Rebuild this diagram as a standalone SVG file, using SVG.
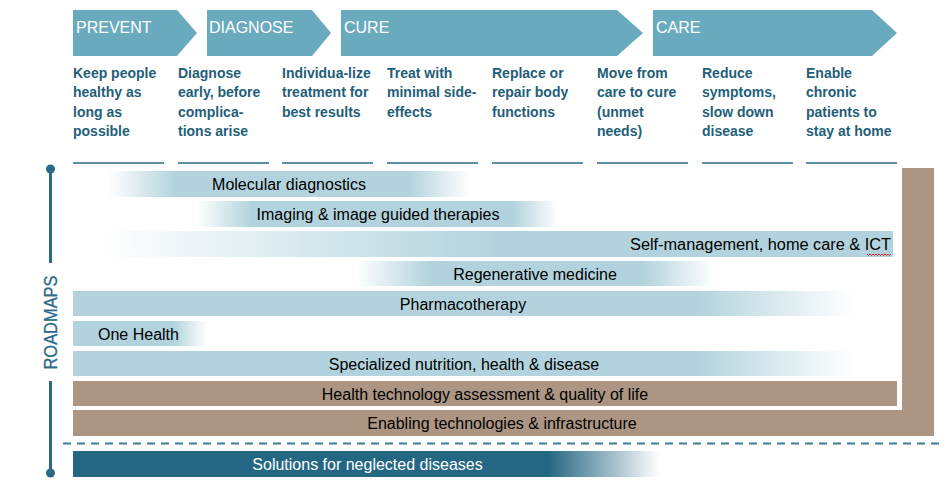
<svg xmlns="http://www.w3.org/2000/svg" width="950" height="482" viewBox="0 0 950 482">
<defs>
<style>
.chev{fill:#6AAABF}
.ph{font-family:"Liberation Sans",Arial,sans-serif;font-size:16px;fill:#ffffff}
.desc{font-family:"Liberation Sans",Arial,sans-serif;font-size:14px;font-weight:bold;fill:#235E78}
.ul{fill:#5E8EA3}
.bt{font-family:"Liberation Sans",Arial,sans-serif;font-size:16px;fill:#000000}
.brown{fill:#AC9683}
.axis{stroke:#2A6A88;stroke-width:3;fill:none}
</style>
<linearGradient id="gMol" x1="108" y1="0" x2="470" y2="0" gradientUnits="userSpaceOnUse">
<stop offset="0" stop-color="#B2D3DD" stop-opacity="0"/><stop offset="0.19" stop-color="#B2D3DD"/><stop offset="0.83" stop-color="#B2D3DD"/><stop offset="1" stop-color="#B2D3DD" stop-opacity="0"/>
</linearGradient>
<linearGradient id="gImg" x1="197" y1="0" x2="558" y2="0" gradientUnits="userSpaceOnUse">
<stop offset="0" stop-color="#B2D3DD" stop-opacity="0"/><stop offset="0.15" stop-color="#B2D3DD"/><stop offset="0.875" stop-color="#B2D3DD"/><stop offset="1" stop-color="#B2D3DD" stop-opacity="0"/>
</linearGradient>
<linearGradient id="gSelf" x1="100" y1="0" x2="893" y2="0" gradientUnits="userSpaceOnUse">
<stop offset="0" stop-color="#B2D3DD" stop-opacity="0"/><stop offset="0.5" stop-color="#B2D3DD"/><stop offset="1" stop-color="#B2D3DD"/>
</linearGradient>
<linearGradient id="gReg" x1="355" y1="0" x2="715" y2="0" gradientUnits="userSpaceOnUse">
<stop offset="0" stop-color="#B2D3DD" stop-opacity="0"/><stop offset="0.21" stop-color="#B2D3DD"/><stop offset="0.8" stop-color="#B2D3DD"/><stop offset="1" stop-color="#B2D3DD" stop-opacity="0"/>
</linearGradient>
<linearGradient id="gPh" x1="73" y1="0" x2="853" y2="0" gradientUnits="userSpaceOnUse">
<stop offset="0" stop-color="#B2D3DD"/><stop offset="0.8" stop-color="#B2D3DD"/><stop offset="1" stop-color="#B2D3DD" stop-opacity="0"/>
</linearGradient>
<linearGradient id="gOne" x1="73" y1="0" x2="207" y2="0" gradientUnits="userSpaceOnUse">
<stop offset="0" stop-color="#B2D3DD"/><stop offset="0.75" stop-color="#B2D3DD"/><stop offset="1" stop-color="#B2D3DD" stop-opacity="0"/>
</linearGradient>
<linearGradient id="gSol" x1="73" y1="0" x2="660" y2="0" gradientUnits="userSpaceOnUse">
<stop offset="0" stop-color="#246783"/><stop offset="0.81" stop-color="#246783"/><stop offset="1" stop-color="#ffffff"/>
</linearGradient>
</defs>
<rect width="950" height="482" fill="#ffffff"/>

<g id="phases">
<g id="prevent"><polygon class="chev" points="73,10 177,10 197,33 177,56 73,56"/><text class="ph" x="76" y="33">PREVENT</text></g>
<g id="diagnose"><polygon class="chev" points="207,10 312,10 331,33 312,56 207,56"/><text class="ph" x="209" y="33">DIAGNOSE</text></g>
<g id="cure"><polygon class="chev" points="341,10 617,10 643,33 617,56 341,56"/><text class="ph" x="344" y="33">CURE</text></g>
<g id="care"><polygon class="chev" points="653,10 872,10 897,33 872,56 653,56"/><text class="ph" x="656" y="33">CARE</text></g>
</g>

<g id="descriptions">
<g id="d1"><text class="desc"><tspan x="73" y="78">Keep people</tspan><tspan x="73" y="97.3">healthy as</tspan><tspan x="73" y="116.6">long as</tspan><tspan x="73" y="136">possible</tspan></text><rect class="ul" x="73" y="162" width="91" height="2"/></g>
<g id="d2"><text class="desc"><tspan x="178" y="78">Diagnose</tspan><tspan x="178" y="97.3">early, before</tspan><tspan x="178" y="116.6">complica-</tspan><tspan x="178" y="136">tions arise</tspan></text><rect class="ul" x="178" y="162" width="91" height="2"/></g>
<g id="d3"><text class="desc"><tspan x="282" y="78">Individua-lize</tspan><tspan x="282" y="97.3">treatment for</tspan><tspan x="282" y="116.6">best results</tspan></text><rect class="ul" x="282" y="162" width="91" height="2"/></g>
<g id="d4"><text class="desc"><tspan x="387" y="78">Treat with</tspan><tspan x="387" y="97.3">minimal side-</tspan><tspan x="387" y="116.6">effects</tspan></text><rect class="ul" x="387" y="162" width="91" height="2"/></g>
<g id="d5"><text class="desc"><tspan x="492" y="78">Replace or</tspan><tspan x="492" y="97.3">repair body</tspan><tspan x="492" y="116.6">functions</tspan></text><rect class="ul" x="492" y="162" width="91" height="2"/></g>
<g id="d6"><text class="desc"><tspan x="597" y="78">Move from</tspan><tspan x="597" y="97.3">care to cure</tspan><tspan x="597" y="116.6">(unmet</tspan><tspan x="597" y="136">needs)</tspan></text><rect class="ul" x="597" y="162" width="91" height="2"/></g>
<g id="d7"><text class="desc"><tspan x="702" y="78">Reduce</tspan><tspan x="702" y="97.3">symptoms,</tspan><tspan x="702" y="116.6">slow down</tspan><tspan x="702" y="136">disease</tspan></text><rect class="ul" x="702" y="162" width="91" height="2"/></g>
<g id="d8"><text class="desc"><tspan x="806" y="78">Enable</tspan><tspan x="806" y="97.3">chronic</tspan><tspan x="806" y="116.6">patients to</tspan><tspan x="806" y="136">stay at home</tspan></text><rect class="ul" x="806" y="162" width="91" height="2"/></g>
</g>

<g id="axis">
<line class="axis" x1="50.5" y1="169" x2="50.5" y2="263"/>
<line class="axis" x1="50.5" y1="381" x2="50.5" y2="473"/>
<circle cx="50.5" cy="169" r="4.5" fill="#2A6A88"/>
<circle cx="50.5" cy="473" r="4.5" fill="#2A6A88"/>
<text x="0" y="0" transform="translate(56.5,369.5) rotate(-90)" font-family="'Liberation Sans',Arial,sans-serif" font-size="18" fill="#2A6A88" stroke="#2A6A88" stroke-width="0.3" textLength="94" lengthAdjust="spacingAndGlyphs">ROADMAPS</text>
</g>

<g id="enabling-frame">
<path class="brown" d="M902,168 H934 V436 H73 V410 H902 Z"/>
<text class="bt" x="502" y="429" text-anchor="middle">Enabling technologies &amp; infrastructure</text>
</g>

<g id="molecular"><rect x="108" y="171" width="362" height="26" fill="url(#gMol)"/><text class="bt" x="289" y="190" text-anchor="middle">Molecular diagnostics</text></g>
<g id="imaging"><rect x="197" y="201" width="361" height="26" fill="url(#gImg)"/><text class="bt" x="378" y="220" text-anchor="middle">Imaging &amp; image guided therapies</text></g>
<g id="selfmanagement"><rect x="100" y="231" width="793" height="26" fill="url(#gSelf)"/><text class="bt" x="891" y="250" text-anchor="end" textLength="261" lengthAdjust="spacingAndGlyphs">Self-management, home care &amp; ICT</text><polyline points="867,254 868.5,255.5 870,254 871.5,255.5 873,254 874.5,255.5 876,254 877.5,255.5 879,254 880.5,255.5 882,254 883.5,255.5 885,254 886.5,255.5 888,254 889.5,255.5 891,254" fill="none" stroke="#E02020" stroke-width="1"/></g>
<g id="regenerative"><rect x="355" y="261" width="360" height="25" fill="url(#gReg)"/><text class="bt" x="535" y="279.5" text-anchor="middle">Regenerative medicine</text></g>
<g id="pharmacotherapy"><rect x="73" y="291" width="780" height="25" fill="url(#gPh)"/><text class="bt" x="463" y="309.5" text-anchor="middle">Pharmacotherapy</text></g>
<g id="onehealth"><rect x="73" y="321" width="134" height="25" fill="url(#gOne)"/><text class="bt" x="98" y="339.5">One Health</text></g>
<g id="nutrition"><rect x="73" y="351" width="780" height="25" fill="url(#gPh)"/><text class="bt" x="464" y="369.5" text-anchor="middle">Specialized nutrition, health &amp; disease</text></g>
<g id="hta"><rect class="brown" x="73" y="381" width="824" height="25"/><text class="bt" x="485" y="399.5" text-anchor="middle">Health technology assessment &amp; quality of life</text></g>

<g id="connectors">
<line x1="63" y1="443.5" x2="940" y2="443.5" stroke="#3D7A95" stroke-width="2" stroke-dasharray="8,6"/>
</g>

<g id="neglected"><rect x="73" y="451" width="587" height="26" fill="url(#gSol)"/><text class="bt" x="367.5" y="470" text-anchor="middle" style="fill:#ffffff">Solutions for neglected diseases</text></g>
</svg>
